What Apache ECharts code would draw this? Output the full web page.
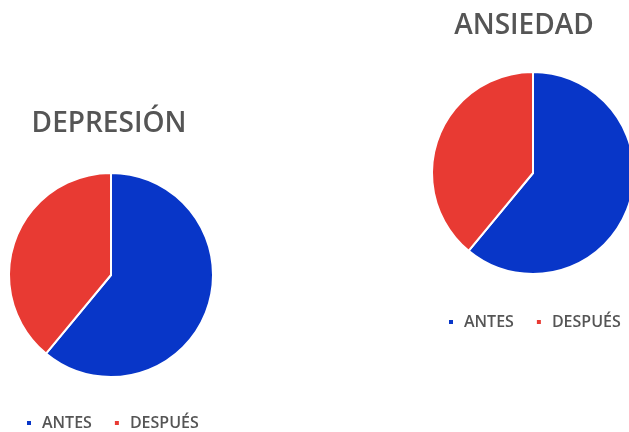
<!DOCTYPE html>
<html>
<head>
<meta charset="utf-8">
<script src="https://cdn.jsdelivr.net/npm/echarts@6/dist/echarts.min.js"></script>
<style>
  html, body { margin: 0; padding: 0; background: #fff; }
  #chart { width: 629px; height: 432px; }
</style>
</head>
<body>
<div id="chart"></div>
<script>
var categories = ['ANTES', 'DESPUÉS'];
var depresion = [61, 39];
var ansiedad = [61, 39];
var colors = ['#0836C8', '#E83A33'];

function toData(values) {
    return values.map(function (v, i) {
        return { name: categories[i], value: v };
    });
}

var titleStyle = { fontFamily: 'Open Sans', fontSize: 28, fontWeight: 600, color: '#555555' };
var legendText = { fontFamily: 'Open Sans', fontSize: 16, fontWeight: 600, color: '#555555', padding: [0, 0, 0, 5] };

var option = {
    color: colors,
    animation: false,
    title: [
        { text: 'DEPRESIÓN', left: 104, top: 105, textAlign: 'center', textStyle: titleStyle },
        { text: 'ANSIEDAD', left: 519, top: 7, textAlign: 'center', textStyle: titleStyle }
    ],
    legend: [
        {
            data: categories, left: 20, top: 410, icon: 'rect',
            itemWidth: 6, itemHeight: 6, itemGap: 21, textStyle: legendText
        },
        {
            data: categories, left: 442, top: 309, icon: 'rect',
            itemWidth: 6, itemHeight: 6, itemGap: 21, textStyle: legendText
        }
    ],
    series: [
        {
            name: 'DEPRESIÓN',
            type: 'pie',
            center: [111, 275],
            radius: [0, 102],
            startAngle: 90,
            label: { show: false },
            labelLine: { show: false },
            itemStyle: { borderColor: '#fff', borderWidth: 2 },
            data: toData(depresion)
        },
        {
            name: 'ANSIEDAD',
            type: 'pie',
            center: [533, 173],
            radius: [0, 101],
            startAngle: 90,
            label: { show: false },
            labelLine: { show: false },
            itemStyle: { borderColor: '#fff', borderWidth: 2 },
            data: toData(ansiedad)
        }
    ]
};

var myChart = echarts.init(document.getElementById('chart'));
myChart.setOption(option);
</script>
</body>
</html>
